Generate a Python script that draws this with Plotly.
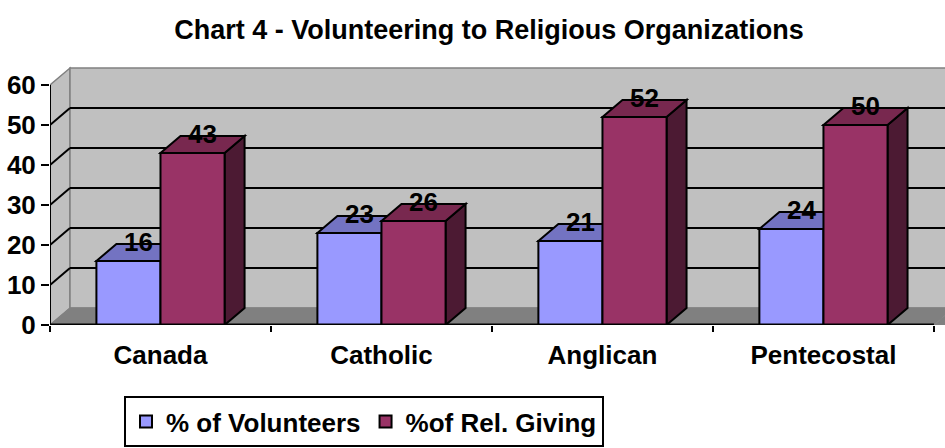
import plotly.graph_objects as go

# ---- data ----
categories = ["Canada", "Catholic", "Anglican", "Pentecostal"]
volunteers = [16, 23, 21, 24]
giving = [43, 26, 52, 50]
series_names = ["% of Volunteers", "%of Rel. Giving"]
y_ticks = [0, 10, 20, 30, 40, 50, 60]
title_text = "Chart 4 - Volunteering to Religious Organizations"

# ---- style ----
FONT = "Liberation Sans, Arial, sans-serif"
BARGAP = 0.42
W = (1 - BARGAP) / 2
DX = 0.0905   # 3D depth along x (category units)
DY = 4.25     # 3D depth along y (value units)
XMAX = 4.05
YMAX = 66.25
YTOP = y_ticks[-1]
NCAT = len(categories)

vol_front, vol_top, vol_side = "#9999FF", "#7373C2", "#4D4D80"
giv_front, giv_top, giv_side = "#993366", "#78284F", "#4C1A33"

centers = [i + 0.5 for i in range(NCAT)]

fig = go.Figure()
fig.add_trace(go.Bar(x=centers, y=volunteers, name=series_names[0],
                     marker=dict(color=vol_front, line=dict(color="black", width=2))))
fig.add_trace(go.Bar(x=centers, y=giving, name=series_names[1],
                     marker=dict(color=giv_front, line=dict(color="black", width=2))))

# value labels on top faces
lx, ly, lt = [], [], []
for c, v, g in zip(centers, volunteers, giving):
    lx += [c - W / 2 + DX / 2, c + W / 2 + DX / 2]
    ly += [v + DY - 0.2, g + DY - 0.2]
    lt += [str(v), str(g)]
fig.add_trace(go.Scatter(x=lx, y=ly, text=lt, mode="text", showlegend=False,
                         textposition="middle center", cliponaxis=False,
                         textfont=dict(family=FONT, size=26, color="black", weight="bold"),
                         hoverinfo="skip"))

shapes = []
gray = "#808080"
# walls and floor
shapes.append(dict(type="path", xref="x", yref="y", layer="below",
                   path=f"M0,0 L{DX},{DY} L{DX},{YTOP+DY} L0,{YTOP} Z",
                   fillcolor="#C0C0C0", line=dict(color=gray, width=1.5)))
shapes.append(dict(type="path", xref="x", yref="y", layer="below",
                   path=f"M{DX},{DY} L{XMAX+0.2},{DY} L{XMAX+0.2},{YTOP+DY} L{DX},{YTOP+DY} Z",
                   fillcolor="#C0C0C0", line=dict(color=gray, width=1.5)))
shapes.append(dict(type="path", xref="x", yref="y", layer="below",
                   path=f"M0,0 L{NCAT},0 L{NCAT+DX},{DY} L{DX},{DY} Z",
                   fillcolor=gray, line=dict(color=gray, width=1)))
shapes.append(dict(type="path", xref="x", yref="y", layer="below",
                   path=f"M{NCAT},0 L{XMAX+0.2},0 L{XMAX+0.2},{DY} L{NCAT+DX},{DY} Z",
                   fillcolor=gray, line=dict(color=gray, width=0)))
# gridlines
for v in y_ticks[1:-1]:
    shapes.append(dict(type="line", xref="x", yref="y", layer="below",
                       x0=DX, y0=v + DY, x1=XMAX + 0.2, y1=v + DY,
                       line=dict(color="black", width=2)))
    shapes.append(dict(type="line", xref="x", yref="y", layer="below",
                       x0=0, y0=v, x1=DX, y1=v + DY,
                       line=dict(color="black", width=2)))

def faces(x0, x1, v, top, side):
    out = []
    out.append(dict(type="path", xref="x", yref="y", layer="below",
                    path=f"M{x1},0 L{x1},{v} L{x1+DX},{v+DY} L{x1+DX},{DY} Z",
                    fillcolor=side, line=dict(color="black", width=2)))
    out.append(dict(type="path", xref="x", yref="y", layer="below",
                    path=f"M{x0},{v} L{x1},{v} L{x1+DX},{v+DY} L{x0+DX},{v+DY} Z",
                    fillcolor=top, line=dict(color="black", width=2)))
    return out

for c, v in zip(centers, volunteers):
    shapes += faces(c - W, c, v, vol_top, vol_side)
for c, g in zip(centers, giving):
    shapes += faces(c, c + W, g, giv_top, giv_side)

# front axis lines
shapes.append(dict(type="line", xref="x", yref="y", layer="above",
                   x0=0, y0=0, x1=0, y1=YTOP, line=dict(color="black", width=2)))
shapes.append(dict(type="line", xref="x", yref="y", layer="above",
                   x0=0, y0=0, x1=NCAT, y1=0, line=dict(color="black", width=3)))

fig.update_layout(
    width=945, height=448,
    margin=dict(l=50, r=0, t=60, b=123, autoexpand=False),
    paper_bgcolor="white", plot_bgcolor="white",
    barmode="group", bargap=BARGAP, bargroupgap=0,
    shapes=shapes,
    font=dict(family=FONT, color="black"),
    title=dict(text=title_text, x=489 / 945, xanchor="center", xref="container",
               y=1 - 30 / 448, yref="container", yanchor="middle",
               font=dict(family=FONT, size=27, color="black", weight="bold")),
    xaxis=dict(range=[0, XMAX], tickvals=centers, ticktext=categories,
               showgrid=False, zeroline=False, showline=False, ticks="",
               ticklabelstandoff=12,
               tickfont=dict(family=FONT, size=26, color="black", weight="bold"),
               minor=dict(tickvals=list(range(NCAT + 1)), ticks="outside",
                          ticklen=6, tickwidth=1.5, tickcolor="black", showgrid=False)),
    yaxis=dict(range=[0, YMAX], tickvals=y_ticks, showgrid=False, zeroline=False,
               showline=False, ticks="outside", ticklen=8, tickwidth=2, tickcolor="black",
               tickfont=dict(family=FONT, size=26, color="black", weight="bold")),
    legend=dict(orientation="h", x=(124 - 50) / 895, xanchor="left",
                y=(325 - 447) / 265, yanchor="bottom",
                bordercolor="black", borderwidth=2, bgcolor="white",
                font=dict(family=FONT, size=26, color="black", weight="bold"),
                itemsizing="constant", tracegroupgap=0),
)

fig.write_html("out.html")
